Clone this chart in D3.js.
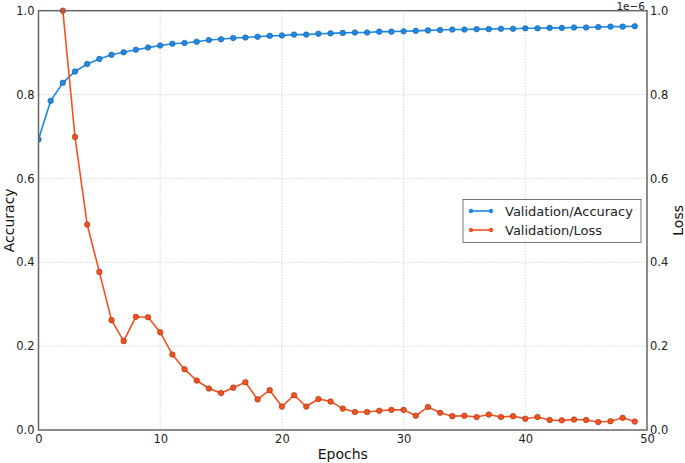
<!DOCTYPE html>
<html><head><meta charset="utf-8">
<script src="https://cdn.jsdelivr.net/npm/d3@7"></script>
<style>body{margin:0;background:#fff}text{font-family:"DejaVu Sans",sans-serif}</style>
</head><body>
<script>
const epochs = d3.range(0, 50);
const accuracy = [0.693,0.785,0.828,0.855,0.873,0.885,0.895,0.901,0.907,0.912,
  0.917,0.921,0.923,0.926,0.930,0.932,0.935,0.936,0.938,0.940,
  0.941,0.943,0.943,0.945,0.946,0.947,0.948,0.948,0.950,0.950,
  0.951,0.952,0.953,0.954,0.955,0.955,0.956,0.956,0.957,0.957,
  0.958,0.958,0.959,0.959,0.960,0.960,0.961,0.962,0.962,0.963];
const lossEpochs = d3.range(2, 50);
const loss = [1.0,0.699,0.490,0.377,0.262,0.212,0.270,0.269,0.233,
  0.180,0.145,0.118,0.099,0.088,0.101,0.114,0.073,0.095,0.056,
  0.083,0.056,0.074,0.068,0.051,0.043,0.043,0.046,0.048,0.048,
  0.034,0.055,0.041,0.033,0.034,0.031,0.037,0.031,0.033,0.027,
  0.031,0.024,0.023,0.025,0.024,0.019,0.021,0.029,0.020];
const xTicks = [0,10,20,30,40,50];
const yTicks = [0.0,0.2,0.4,0.6,0.8,1.0];
const seriesNames = ["Validation/Accuracy","Validation/Loss"];
const colors = ["#1e88e5","#f4511e"];

const W=685,H=463, L=38.5, R=647, T=10.7, B=430;
const svg=d3.select("body").append("svg").attr("width",W).attr("height",H);
const x=d3.scaleLinear().domain([0,50]).range([L,R]);
const y=d3.scaleLinear().domain([0,1]).range([B,T]);
const y2=d3.scaleLinear().domain([0,1]).range([B,T]);

// grid
const g=svg.append("g");
g.selectAll(".gx").data(xTicks.slice(1,-1)).join("line")
 .attr("x1",d=>x(d)).attr("x2",d=>x(d)).attr("y1",T).attr("y2",B)
 .attr("stroke","#b4b4b4").attr("stroke-width",0.8).attr("stroke-dasharray","1,2");
g.selectAll(".gy").data(yTicks.slice(1,-1)).join("line")
 .attr("y1",d=>y(d)).attr("y2",d=>y(d)).attr("x1",L).attr("x2",R)
 .attr("stroke","#b4b4b4").attr("stroke-width",0.8).attr("stroke-dasharray","1,2");

// clip
svg.append("clipPath").attr("id","c").append("rect").attr("x",L).attr("y",T-4).attr("width",R-L).attr("height",B-T+8);

const line1=d3.line().x((d,i)=>x(epochs[i])).y(d=>y(d));
const line2=d3.line().x((d,i)=>x(lossEpochs[i])).y(d=>y2(d));
const pg=svg.append("g").attr("clip-path","url(#c)");
pg.append("path").attr("d",line1(accuracy)).attr("fill","none").attr("stroke",colors[0]).attr("stroke-width",1.6);
pg.selectAll(".p1").data(accuracy).join("circle").attr("cx",(d,i)=>x(epochs[i])).attr("cy",d=>y(d)).attr("r",2.8)
 .attr("fill",colors[0]).attr("stroke","#1a4f80").attr("stroke-width",0.5);
pg.append("path").attr("d",line2(loss)).attr("fill","none").attr("stroke",colors[1]).attr("stroke-width",1.6);
pg.selectAll(".p2").data(loss).join("circle").attr("cx",(d,i)=>x(lossEpochs[i])).attr("cy",d=>y2(d)).attr("r",2.8)
 .attr("fill",colors[1]).attr("stroke","#7a2a10").attr("stroke-width",0.5);

// frame
svg.append("rect").attr("x",L).attr("y",T).attr("width",R-L).attr("height",B-T).attr("fill","none").attr("stroke","#666").attr("stroke-width",1.5);

// axes
const ax=svg.append("g").attr("transform",`translate(0,${B})`).call(d3.axisBottom(x).tickValues(xTicks).tickSize(0).tickPadding(5).tickFormat(d3.format("d")));
const ayl=svg.append("g").attr("transform",`translate(${L},0)`).call(d3.axisLeft(y).tickValues(yTicks).tickSize(0).tickPadding(4).tickFormat(d3.format(".1f")));
const ayr=svg.append("g").attr("transform",`translate(${R},0)`).call(d3.axisRight(y2).tickValues(yTicks).tickSize(0).tickPadding(3).tickFormat(d3.format(".1f")));
[ax,ayl,ayr].forEach(a=>{a.select(".domain").remove();a.selectAll("text").attr("font-size",11.5).attr("fill","#222").attr("font-family","DejaVu Sans");});

svg.append("text").attr("x",(L+R)/2).attr("y",459).attr("text-anchor","middle").attr("font-size",14).attr("fill","#111").text("Epochs");
svg.append("text").attr("transform",`translate(14,${(T+B)/2}) rotate(-90)`).attr("text-anchor","middle").attr("font-size",14).attr("fill","#111").text("Accuracy");
svg.append("text").attr("transform",`translate(683,${(T+B)/2}) rotate(-90)`).attr("text-anchor","middle").attr("font-size",14).attr("fill","#111").text("Loss");
svg.append("text").attr("x",645).attr("y",9.5).attr("text-anchor","end").attr("font-size",10.5).attr("fill","#222").text("1e\u22126");

// legend
const lg=svg.append("g");
lg.append("rect").attr("x",463).attr("y",199.5).attr("width",178).attr("height",43).attr("fill","#fff").attr("stroke","#555").attr("stroke-width",0.8);
seriesNames.forEach((n,i)=>{
  const yy=211+i*19;
  lg.append("line").attr("x1",471).attr("x2",491).attr("y1",yy).attr("y2",yy).attr("stroke",colors[i]).attr("stroke-width",1.6);
  [471,491].forEach(cx=>lg.append("circle").attr("cx",cx).attr("cy",yy).attr("r",2.2).attr("fill",colors[i]));
  lg.append("text").attr("x",505).attr("y",yy+4.5).attr("font-size",13).attr("fill","#222").text(n);
});
</script>
</body></html>
